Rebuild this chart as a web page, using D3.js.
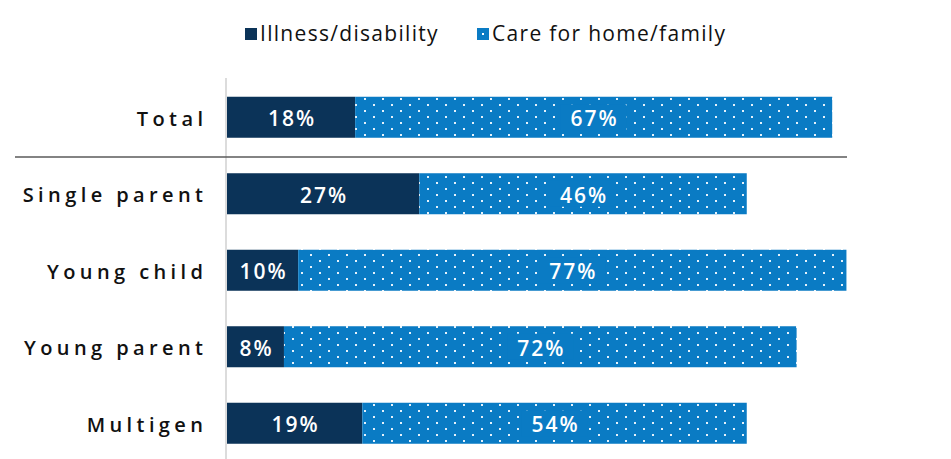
<!DOCTYPE html>
<html>
<head>
<meta charset="utf-8">
<script src="https://cdn.jsdelivr.net/npm/d3@7/dist/d3.min.js"></script>
<style>
  html, body { margin: 0; padding: 0; background: #fff; }
  svg { display: block; }
  text { font-family: "Open Sans", "Noto Sans", sans-serif; }
</style>
</head>
<body>
<svg id="chart" width="951" height="459"></svg>
<script>
// Reasons for not working, by household group (% of respondents)
const categories = ["Total", "Single parent", "Young child", "Young parent", "Multigen"];
const illness = [18, 27, 10, 8, 19];
const careHome = [67, 46, 77, 72, 54];
const seriesNames = ["Illness/disability", "Care for home/family"];

const colorDark = "#0b3358";
const colorLight = "#0a7bc4";

const svg = d3.select("#chart");
const defs = svg.append("defs");

// staggered white dot texture for the second series
const pat = defs.append("pattern")
  .attr("id", "dots")
  .attr("patternUnits", "userSpaceOnUse")
  .attr("width", 18).attr("height", 12);
pat.append("rect").attr("width", 18).attr("height", 12).attr("fill", colorLight);
pat.append("rect").attr("x", 4).attr("y", 2).attr("width", 2).attr("height", 2).attr("fill", "#e6f2fb");
pat.append("rect").attr("x", 13).attr("y", 8).attr("width", 2).attr("height", 2).attr("fill", "#e6f2fb");

const x = d3.scaleLinear().domain([0, 100]).range([227, 939]);
const y = d3.scaleBand().domain(categories).range([79, 461.5])
  .paddingInner(0.464).paddingOuter(0.232);

const rows = categories.map((c, i) => ({ cat: c, a: illness[i], b: careHome[i] }));

// vertical baseline
svg.append("line")
  .attr("x1", x(0) - 1).attr("x2", x(0) - 1)
  .attr("y1", 78).attr("y2", 459)
  .attr("stroke", "#dcdcdc").attr("stroke-width", 2);

// separator between total and the groups
svg.append("line")
  .attr("x1", 15).attr("x2", 847)
  .attr("y1", 157).attr("y2", 157)
  .attr("stroke", "#5a5a5a").attr("stroke-width", 1.5);

const g = svg.append("g");

g.selectAll("rect.ill").data(rows).join("rect")
  .attr("class", "ill")
  .attr("x", x(0))
  .attr("y", d => y(d.cat))
  .attr("width", d => x(d.a) - x(0))
  .attr("height", y.bandwidth())
  .attr("fill", colorDark);

g.selectAll("rect.care").data(rows).join("rect")
  .attr("class", "care")
  .attr("x", d => x(d.a))
  .attr("y", d => y(d.cat))
  .attr("width", d => x(d.a + d.b) - x(d.a))
  .attr("height", y.bandwidth())
  .attr("fill", "url(#dots)");

// plain patch behind the dotted-segment labels
const patchW = 66, patchH = 26;
g.selectAll("rect.patch").data(rows).join("rect")
  .attr("class", "patch")
  .attr("x", d => (x(d.a) + x(d.a + d.b)) / 2 - patchW / 2)
  .attr("y", d => y(d.cat) + y.bandwidth() / 2 - patchH / 2)
  .attr("width", patchW)
  .attr("height", patchH)
  .attr("fill", colorLight);

// value labels
const ls = 2;
const labelStyle = sel => sel
  .attr("fill", "#fff")
  .attr("font-size", 21)
  .attr("font-weight", 600)
  .attr("letter-spacing", ls + "px")
  .attr("text-anchor", "middle")
  .attr("dominant-baseline", "central");

g.selectAll("text.va").data(rows).join("text")
  .attr("class", "va")
  .attr("x", d => (x(0) + x(d.a)) / 2 + ls / 2)
  .attr("y", d => y(d.cat) + y.bandwidth() / 2 + 1)
  .text(d => d.a + "%")
  .call(labelStyle);

g.selectAll("text.vb").data(rows).join("text")
  .attr("class", "vb")
  .attr("x", d => (x(d.a) + x(d.a + d.b)) / 2 + ls / 2)
  .attr("y", d => y(d.cat) + y.bandwidth() / 2 + 1)
  .text(d => d.b + "%")
  .call(labelStyle);

// category labels
const catLs = 4.4;
svg.append("g").selectAll("text").data(categories).join("text")
  .attr("x", 203 + catLs)
  .attr("y", d => y(d) + y.bandwidth() / 2 + 1)
  .attr("text-anchor", "end")
  .attr("dominant-baseline", "central")
  .attr("font-size", 20)
  .attr("font-weight", 600)
  .attr("letter-spacing", catLs + "px")
  .attr("fill", "#111")
  .text(d => d);

// legend
const legend = svg.append("g");
const legendItems = [
  { name: seriesNames[0], fill: colorDark, x: 245 },
  { name: seriesNames[1], fill: colorLight, x: 477 }
];
const li = legend.selectAll("g").data(legendItems).join("g")
  .attr("transform", d => `translate(${d.x},0)`);
li.append("rect")
  .attr("x", 0).attr("y", 28).attr("width", 12).attr("height", 12)
  .attr("fill", d => d.fill);
li.filter((d, i) => i === 1).append("rect")
  .attr("x", 5).attr("y", 33).attr("width", 2).attr("height", 2).attr("fill", "#fff");
li.append("text")
  .attr("x", 15).attr("y", 41)
  .attr("font-size", 21)
  .attr("letter-spacing", "1.3px")
  .attr("fill", "#111")
  .text(d => d.name);
</script>
</body>
</html>
